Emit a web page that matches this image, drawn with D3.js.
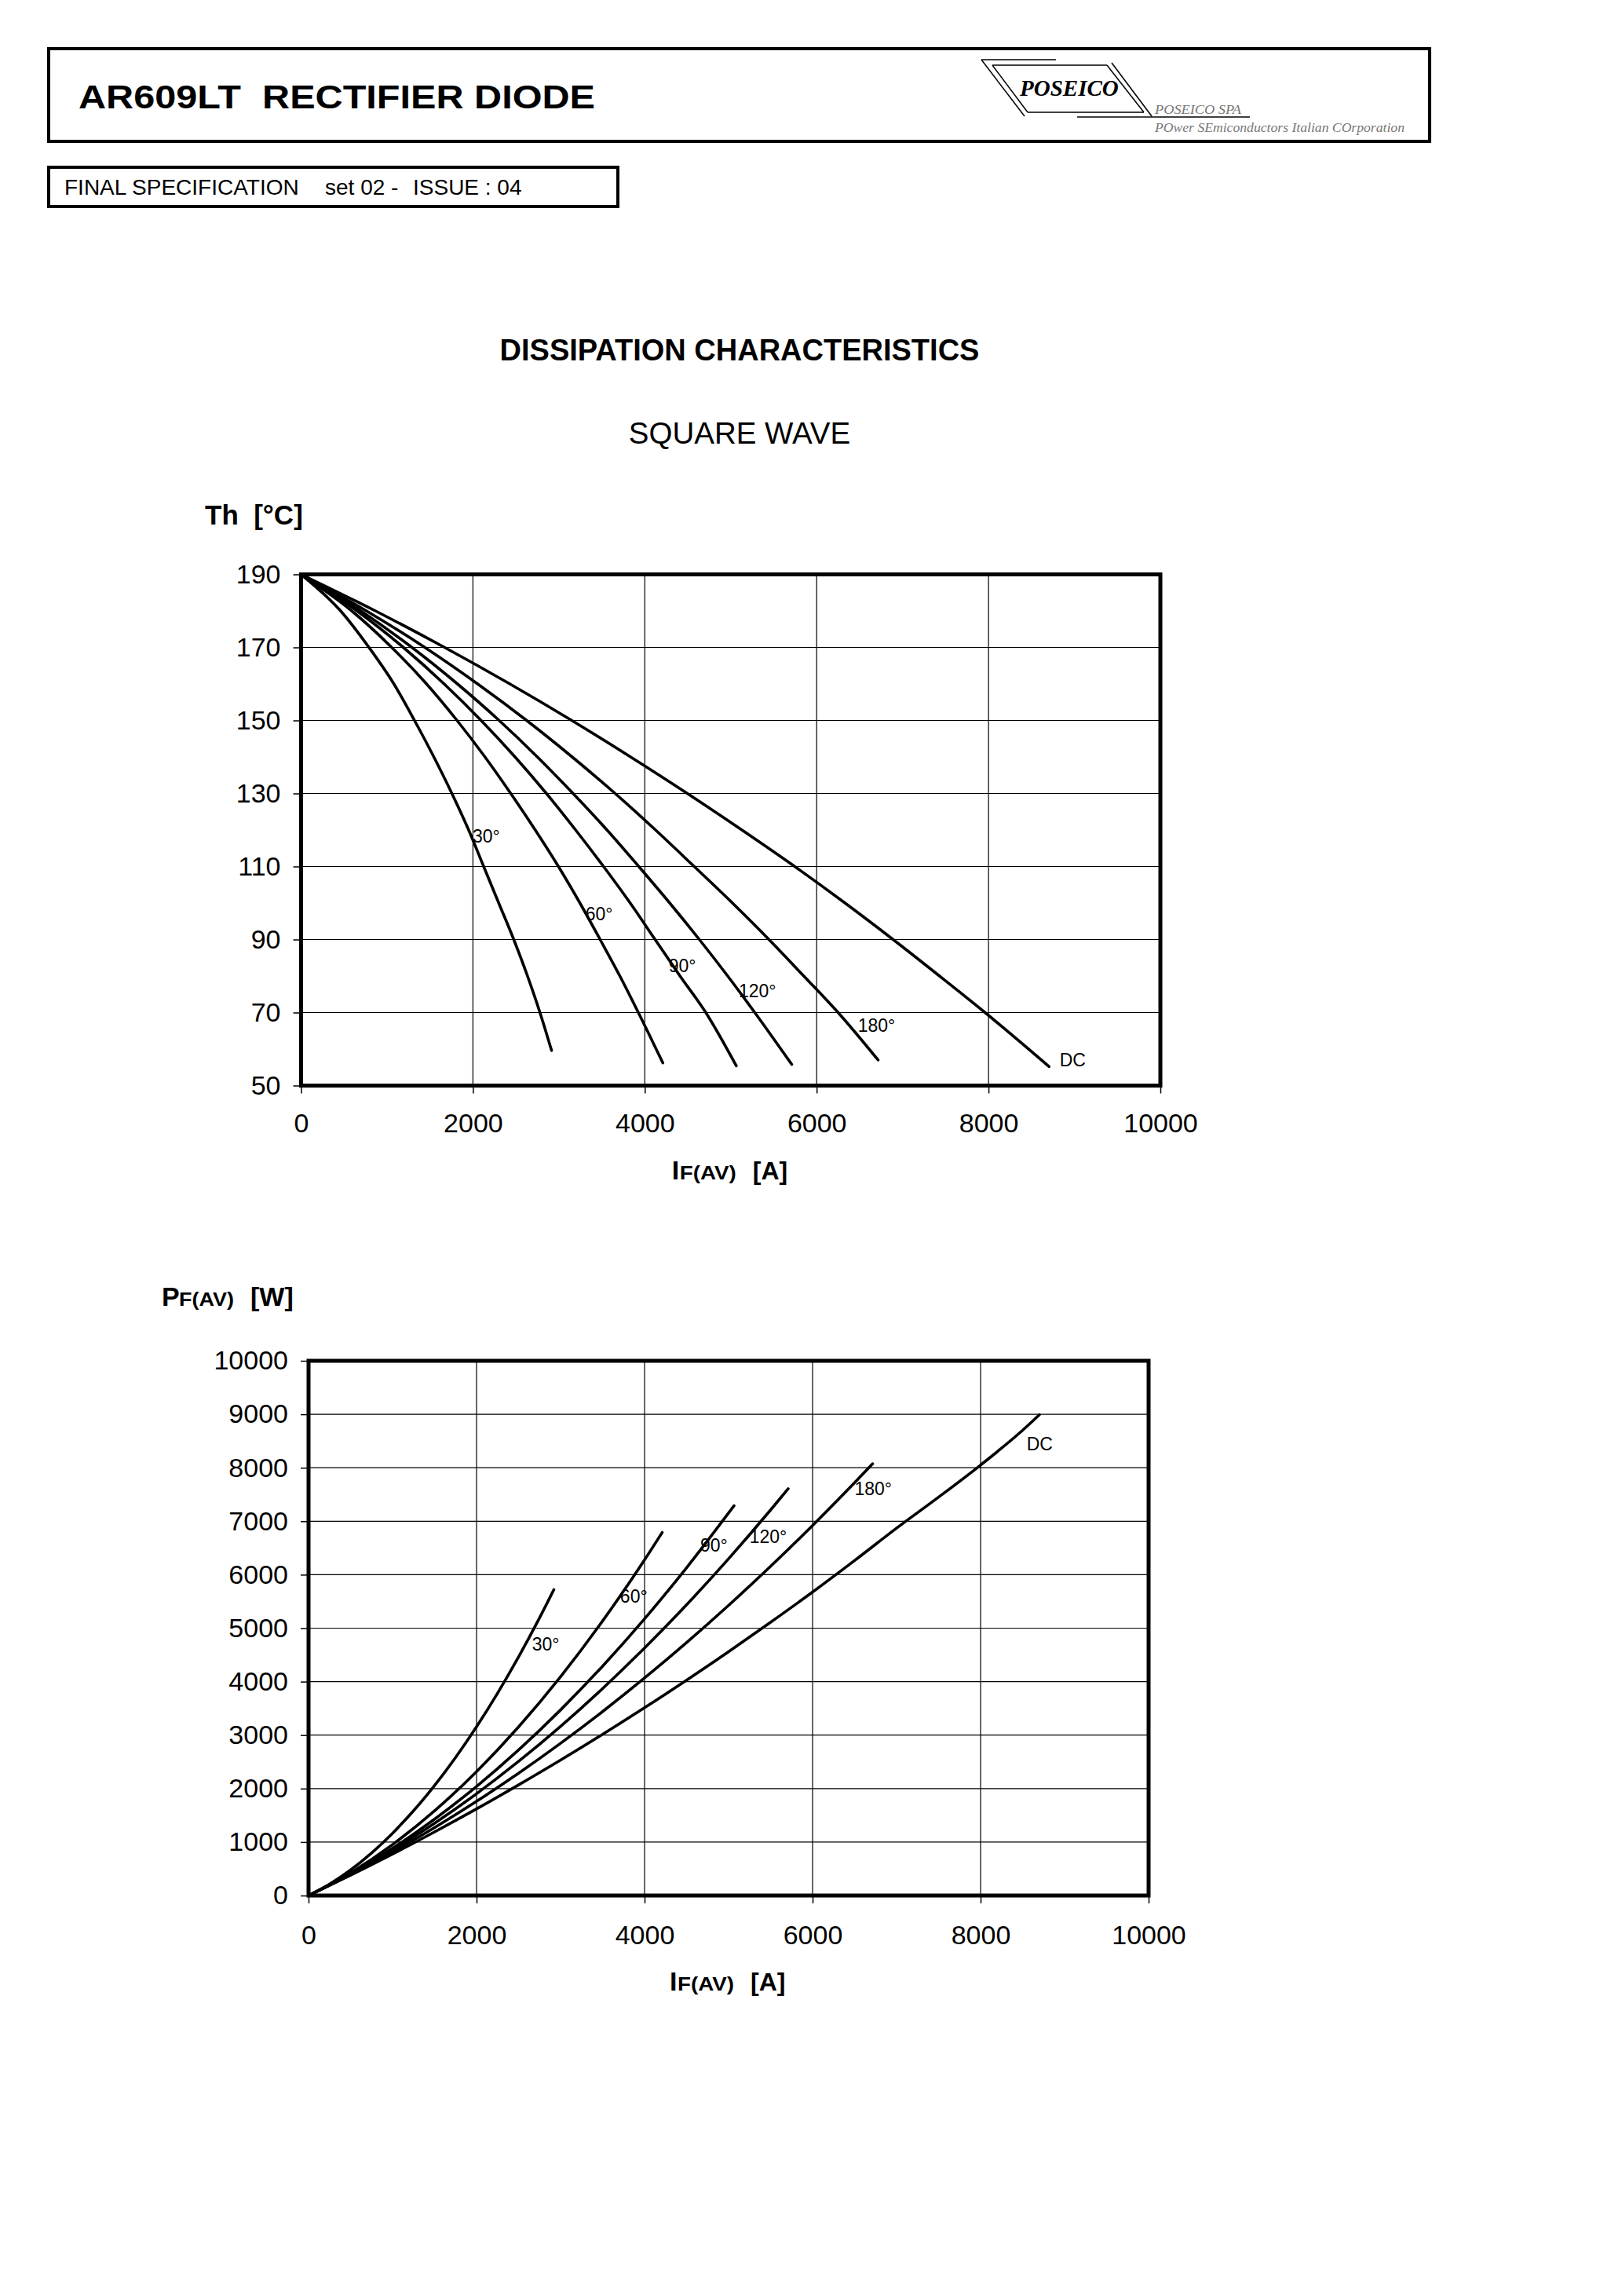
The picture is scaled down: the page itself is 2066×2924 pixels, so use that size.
<!DOCTYPE html>
<html><head><meta charset="utf-8">
<script src="https://cdn.jsdelivr.net/npm/d3@7"></script>
<style>
body{margin:0;background:#fff}
svg{display:block}
text{font-family:"Liberation Sans",Arial,sans-serif;fill:#000}
</style>
</head><body>
<script>
// ---------------- DATA ----------------
const curveNames = ["30°", "60°", "90°", "120°", "180°", "DC"];

// Chart 1: heatsink temperature Th [°C] vs IF(AV) [A]   ([A, °C])
const th30  = [[0,190],[460,180],[790,170],[1080,160],[1320,150],[1545,140],[1755,130],[1950,120],[2125,110],[2300,100],[2475,90],[2635,80],[2780,70],[2915,59.6]];
const th60  = [[0,190],[590,180],[1055,170],[1460,160],[1815,150],[2140,140],[2440,130],[2725,120],[2995,110],[3245,100],[3480,90],[3710,80],[3925,70],[4210,56.2]];
const th90  = [[0,190],[650,180],[1190,170],[1665,160],[2095,150],[2490,140],[2855,130],[3195,120],[3520,110],[3830,100],[4120,90],[4410,80],[4710,70],[5065,55.4]];
const th120 = [[0,190],[695,180],[1290,170],[1820,160],[2305,150],[2750,140],[3165,130],[3560,120],[3930,110],[4290,100],[4635,90],[4965,80],[5280,70],[5710,55.8]];
const th180 = [[0,190],[760,180],[1440,170],[2055,160],[2625,150],[3155,140],[3655,130],[4125,120],[4575,110],[5020,100],[5445,90],[5850,80],[6250,70],[6715,57.0]];
const thDC  = [[0,190],[865,180],[1670,170],[2430,160],[3150,150],[3835,140],[4495,130],[5130,120],[5745,110],[6330,100],[6890,90],[7430,80],[7960,70],[8705,55.2]];
const thLabelPos = [[1996,116.5],[3310,95.3],[4278,81.0],[5093,74.2],[6480,64.7],[8828,55.2]];

// Chart 2: dissipated power PF(AV) [W] vs IF(AV) [A]   ([A, W])
const pf30  = [[0,0],[250,214],[500,479],[750,796],[1000,1165],[1250,1585],[1500,2057],[1750,2581],[2000,3157],[2250,3784],[2500,4462],[2750,5193],[2920,5720]];
const pf60  = [[0,0],[500,425],[1000,953],[1500,1584],[2000,2317],[2500,3153],[3000,4092],[3500,5134],[4000,6278],[4210,6790]];
const pf90  = [[0,0],[500,407],[1000,883],[1500,1428],[2000,2040],[2500,2721],[3000,3471],[3500,4289],[4000,5175],[4500,6130],[5065,7290]];
const pf120 = [[0,0],[500,399],[1000,849],[1500,1351],[2000,1903],[2500,2508],[3000,3163],[3500,3870],[4000,4628],[4500,5437],[5000,6298],[5500,7210],[5710,7608]];
const pf180 = [[0,0],[500,389],[1000,812],[1500,1270],[2000,1761],[2500,2287],[3000,2847],[3500,3440],[4000,4068],[4500,4730],[5000,5426],[5500,6156],[6000,6921],[6500,7719],[6715,8074]];
const pfDC  = [[0,0],[500,380],[1000,776],[1500,1190],[2000,1620],[2500,2068],[3000,2532],[3500,3014],[4000,3512],[4500,4028],[5000,4560],[5500,5110],[6000,5676],[6500,6265],[7000,6870],[7500,7450],[8000,8050],[8500,8700],[8700,8990]];
const pfLabelPos = [[2661,4577],[3709,5470],[4663,6436],[5250,6599],[6499,7493],[8549,8327]];

const ifTicks = [0, 2000, 4000, 6000, 8000, 10000];
const thTicks = [50, 70, 90, 110, 130, 150, 170, 190];
const pfTicks = [0, 1000, 2000, 3000, 4000, 5000, 6000, 7000, 8000, 9000, 10000];

// ---------------- PAGE ----------------
const W = 2066, H = 2924;
const svg = d3.select("body").append("svg").attr("width", W).attr("height", H);
svg.append("rect").attr("width", W).attr("height", H).attr("fill", "#fff");

// Header box
svg.append("rect").attr("x", 62).attr("y", 62).attr("width", 1759).attr("height", 118)
  .attr("fill", "none").attr("stroke", "#000").attr("stroke-width", 4);
svg.append("text").attr("x", 100).attr("y", 138)
  .attr("font-size", 42).attr("font-weight", "bold")
  .attr("textLength", 658).attr("lengthAdjust", "spacingAndGlyphs")
  .attr("xml:space", "preserve").text("AR609LT  RECTIFIER DIODE");

// Logo
const logo = svg.append("g").attr("stroke", "#000").attr("stroke-width", 1.5).attr("fill", "none");
[[1250,76,1345,76],[1250,76,1305,148],[1264,83,1410,83],[1264,83,1309,143],[1309,143,1457,143],
 [1410,83,1457,143],[1416,80,1467,148],[1372,149,1592,149]].forEach(l =>
  logo.append("line").attr("x1", l[0]).attr("y1", l[1]).attr("x2", l[2]).attr("y2", l[3]));
svg.append("text").attr("x", 1299).attr("y", 122).attr("font-size", 29)
  .style("font-family", "'Liberation Serif','Times New Roman',serif")
  .attr("font-weight", "bold").attr("font-style", "italic").text("POSEICO");
svg.append("text").attr("x", 1471).attr("y", 145).attr("font-size", 16)
  .style("font-family", "'Liberation Serif','Times New Roman',serif").style("fill", "#777")
  .attr("font-style", "italic").attr("textLength", 110).attr("lengthAdjust", "spacingAndGlyphs")
  .text("POSEICO SPA");
svg.append("text").attr("x", 1471).attr("y", 168).attr("font-size", 16)
  .style("font-family", "'Liberation Serif','Times New Roman',serif").style("fill", "#777")
  .attr("font-style", "italic").attr("textLength", 318).attr("lengthAdjust", "spacingAndGlyphs")
  .text("POwer SEmiconductors Italian COrporation");

// Spec box
svg.append("rect").attr("x", 62).attr("y", 213).attr("width", 725).attr("height", 50)
  .attr("fill", "none").attr("stroke", "#000").attr("stroke-width", 4);
svg.append("text").attr("x", 82).attr("y", 248).attr("font-size", 28).text("FINAL SPECIFICATION");
svg.append("text").attr("x", 414).attr("y", 248).attr("font-size", 28).text("set 02 -");
svg.append("text").attr("x", 526).attr("y", 248).attr("font-size", 28).text("ISSUE : 04");

// Titles
svg.append("text").attr("x", 942).attr("y", 459).attr("text-anchor", "middle")
  .attr("font-size", 38).attr("font-weight", "bold").text("DISSIPATION CHARACTERISTICS");
svg.append("text").attr("x", 942).attr("y", 565).attr("text-anchor", "middle")
  .attr("font-size", 38.5).text("SQUARE WAVE");

// ---------------- CHART FUNCTION ----------------
function drawChart(o) {
  const x = d3.scaleLinear().domain([0, 10000]).range([o.x0, o.x1]);
  const y = d3.scaleLinear().domain(o.yDomain).range([o.y0, o.y1]);
  const g = svg.append("g");

  // grid
  g.append("g").selectAll("line").data(ifTicks.slice(1, -1)).join("line")
    .attr("x1", d => x(d)).attr("x2", d => x(d)).attr("y1", o.y1).attr("y2", o.y0)
    .attr("stroke", "#000").attr("stroke-width", 1.2);
  g.append("g").selectAll("line").data(o.yTicks.slice(1, -1)).join("line")
    .attr("x1", o.x0).attr("x2", o.x1).attr("y1", d => y(d)).attr("y2", d => y(d))
    .attr("stroke", "#000").attr("stroke-width", 1.2);

  // axes
  const ax = g.append("g").attr("transform", `translate(${o.x0},0)`)
    .call(d3.axisLeft(y).tickValues(o.yTicks).tickSize(10).tickPadding(16).tickFormat(d3.format("d")));
  const bx = g.append("g").attr("transform", `translate(0,${o.y0})`)
    .call(d3.axisBottom(x).tickValues(ifTicks).tickSize(10).tickPadding(o.xPad).tickFormat(d3.format("d")));
  [ax, bx].forEach(a => {
    a.select(".domain").remove();
    a.selectAll(".tick line").attr("stroke", "#000").attr("stroke-width", 1.5);
    a.selectAll("text").attr("font-size", 34).style("font-family", "'Liberation Sans',Arial,sans-serif").attr("fill", "#000");
  });

  // curves
  const line = d3.line().x(d => x(d[0])).y(d => y(d[1])).curve(d3.curveMonotoneX);
  g.append("g").selectAll("path").data(o.series).join("path")
    .attr("d", line).attr("fill", "none").attr("stroke", "#000")
    .attr("stroke-width", 3.6).attr("stroke-linecap", "round").attr("stroke-linejoin", "round");

  // curve labels
  g.append("g").selectAll("text").data(o.labels).join("text")
    .attr("x", d => x(d[0])).attr("y", d => y(d[1]))
    .attr("font-size", 23).text((d, i) => curveNames[i]);

  // frame
  g.append("rect").attr("x", o.x0).attr("y", o.y1).attr("width", o.x1 - o.x0).attr("height", o.y0 - o.y1)
    .attr("fill", "none").attr("stroke", "#000").attr("stroke-width", 5);

  // x title  IF(AV)  [A]
  const cx = (o.x0 + o.x1) / 2;
  const xt = g.append("g");
  xt.append("text").attr("x", cx - 75).attr("y", o.xTitleY).attr("font-size", 34).attr("font-weight", "bold").text("I");
  xt.append("text").attr("x", cx - 65).attr("y", o.xTitleY).attr("font-size", 24).attr("font-weight", "bold")
    .attr("textLength", 72).attr("lengthAdjust", "spacingAndGlyphs").text("F(AV)");
  xt.append("text").attr("x", cx + 28).attr("y", o.xTitleY).attr("font-size", 32).attr("font-weight", "bold").text("[A]");
}

drawChart({
  x0: 383.5, x1: 1478, y0: 1382.5, y1: 731.5,
  yDomain: [50, 190], yTicks: thTicks, xPad: 25,
  series: [th30, th60, th90, th120, th180, thDC], labels: thLabelPos,
  xTitleY: 1502
});
svg.append("text").attr("x", 261).attr("y", 668).attr("font-size", 35).attr("font-weight", "bold")
  .attr("xml:space", "preserve").text("Th  [°C]");

drawChart({
  x0: 393, x1: 1463, y0: 2414, y1: 1733,
  yDomain: [0, 10000], yTicks: pfTicks, xPad: 28,
  series: [pf30, pf60, pf90, pf120, pf180, pfDC], labels: pfLabelPos,
  xTitleY: 2535
});
svg.append("text").attr("x", 206).attr("y", 1663).attr("font-size", 34).attr("font-weight", "bold").text("P");
svg.append("text").attr("x", 228).attr("y", 1663).attr("font-size", 24).attr("font-weight", "bold")
  .attr("textLength", 70).attr("lengthAdjust", "spacingAndGlyphs").text("F(AV)");
svg.append("text").attr("x", 319).attr("y", 1663).attr("font-size", 34).attr("font-weight", "bold").text("[W]");
</script>
</body></html>
